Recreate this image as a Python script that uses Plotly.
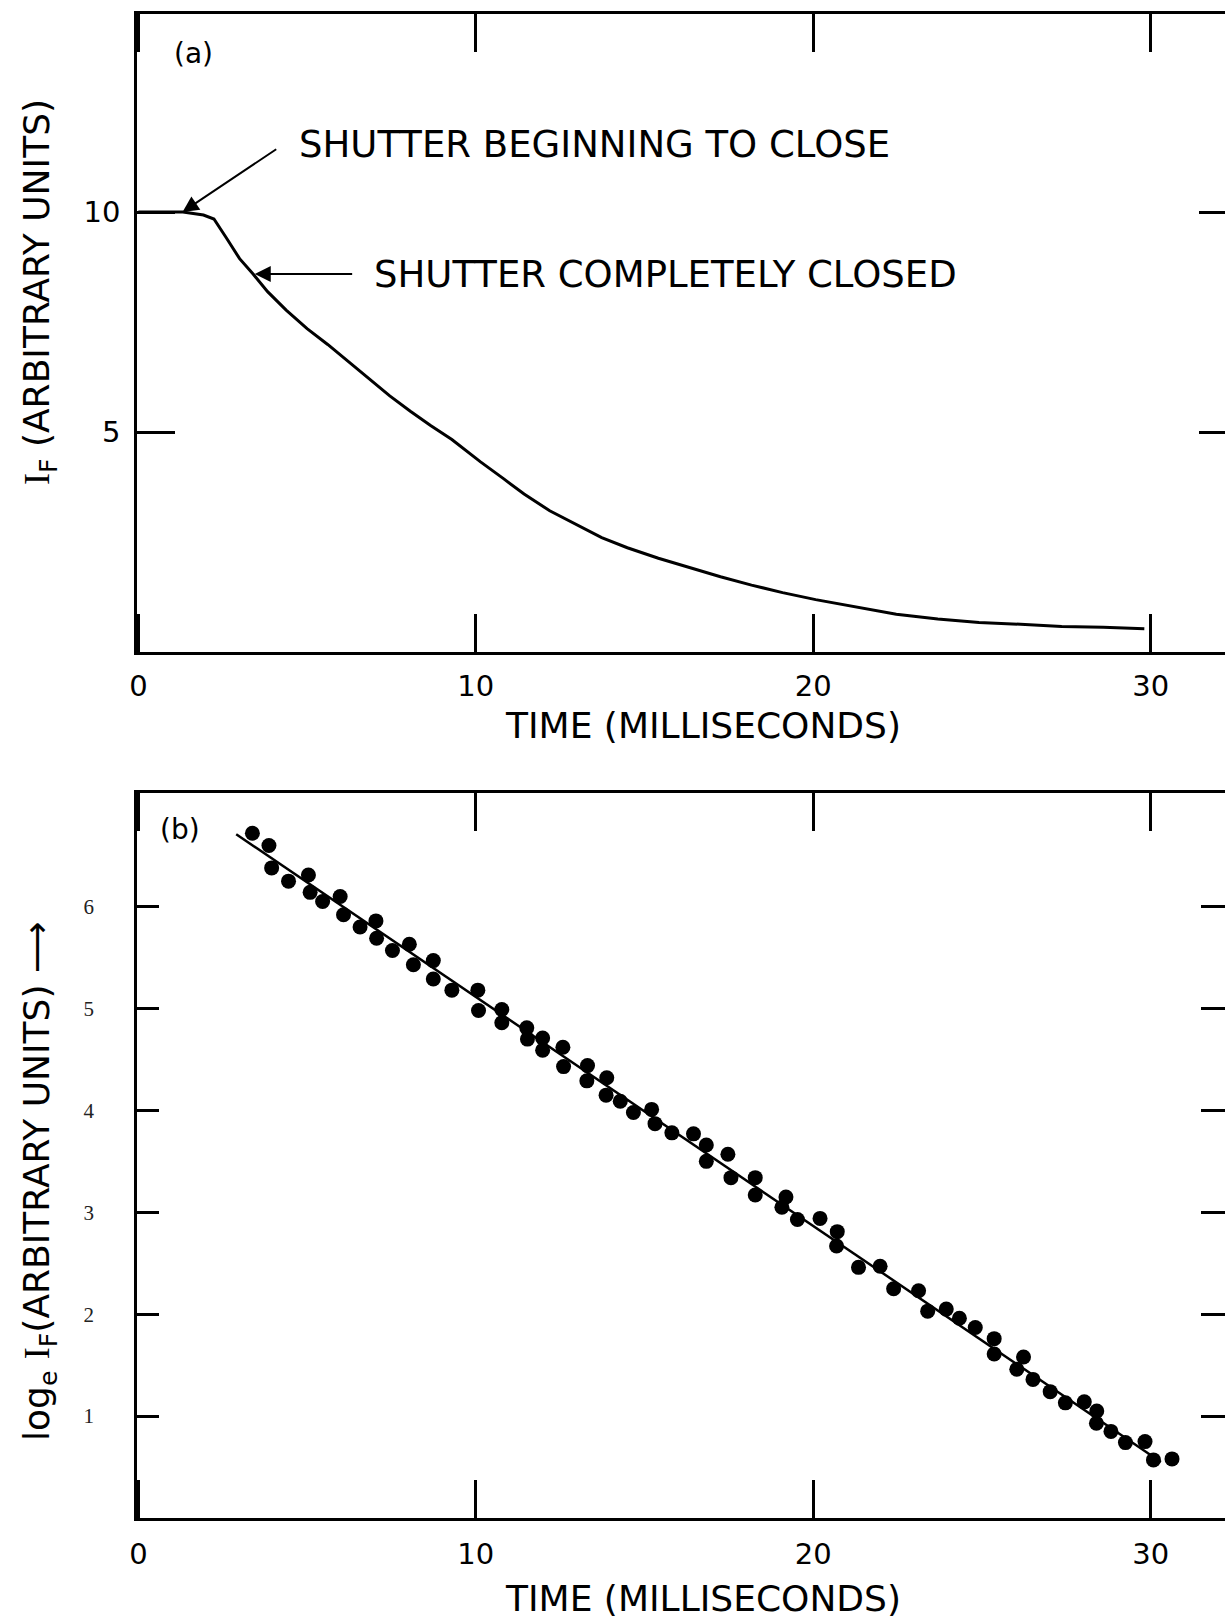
import plotly.graph_objects as go

# ---- Panel (a): fluorescence intensity trace after the shutter closes ----
trace_t = [0.0, 1.32, 1.93, 2.24, 2.61, 3.00, 3.40, 3.83, 4.38, 5.00, 5.61, 6.22,
           6.83, 7.45, 8.06, 8.67, 9.29, 10.14, 10.82, 11.43, 12.19, 12.96, 13.73,
           14.49, 15.41, 16.33, 17.25, 18.17, 19.09, 20.07, 21.23, 22.46, 23.69,
           24.91, 26.14, 27.36, 28.59, 29.81]
trace_i = [10.0, 10.0, 9.93, 9.84, 9.41, 8.94, 8.59, 8.19, 7.77, 7.35, 6.99, 6.60,
           6.20, 5.82, 5.47, 5.14, 4.83, 4.32, 3.94, 3.59, 3.21, 2.91, 2.60,
           2.37, 2.13, 1.92, 1.71, 1.52, 1.35, 1.19, 1.03, 0.86, 0.75,
           0.67, 0.63, 0.58, 0.56, 0.53]

# ---- Panel (b): log_e of the intensity, sampled points and straight-line fit ----
log_t = [3.38, 3.87, 3.95, 4.45, 5.04, 5.09, 5.46, 5.98, 6.08, 6.57, 7.04, 7.06,
         7.53, 8.03, 8.15, 8.74, 8.74, 9.29, 10.06, 10.08, 10.77, 10.77, 11.51,
         11.53, 11.98, 11.98, 12.58, 12.60, 13.31, 13.29, 13.88, 13.86, 14.28,
         14.67, 15.21, 15.31, 15.81, 16.45, 16.83, 16.83, 17.47, 17.56, 18.28,
         18.28, 19.19, 19.07, 19.53, 20.20, 20.71, 20.69, 21.34, 21.98, 22.38,
         23.12, 23.39, 23.94, 24.33, 24.80, 25.36, 25.36, 26.23, 26.03, 26.51,
         27.02, 27.47, 28.03, 28.40, 28.39, 28.82, 29.25, 29.83, 30.08, 30.63]
log_i = [6.72, 6.60, 6.38, 6.25, 6.31, 6.14, 6.05, 6.10, 5.92, 5.80, 5.86, 5.69,
         5.57, 5.63, 5.43, 5.47, 5.29, 5.18, 5.18, 4.98, 4.99, 4.86, 4.81,
         4.70, 4.71, 4.59, 4.62, 4.43, 4.44, 4.29, 4.32, 4.15, 4.09,
         3.98, 4.01, 3.87, 3.78, 3.77, 3.66, 3.50, 3.57, 3.34, 3.34,
         3.17, 3.15, 3.05, 2.93, 2.94, 2.81, 2.67, 2.46, 2.47, 2.25,
         2.23, 2.03, 2.05, 1.96, 1.87, 1.76, 1.61, 1.58, 1.46, 1.36,
         1.24, 1.13, 1.14, 1.05, 0.93, 0.85, 0.74, 0.75, 0.57, 0.58]
fit_t = [2.90, 30.30]
fit_i = [6.71, 0.55]

x_ticks = [0, 10, 20, 30]
x_tick_text = ["0", "10", "20", "30"]
a_ticks = [5, 10]
a_tick_text = ["5", "10"]
b_ticks = [1, 2, 3, 4, 5, 6]
b_tick_text = ["1", "2", "3", "4", "5", "6"]

FONT = "DejaVu Sans"
W, H = 1225, 1621
PL, PR, PT, PB = 137, 1225, 14, 1518
X_RANGE = [-0.04, 32.2]
A_RANGE = [0, 14.5]
B_RANGE = [0, 7.115]


def px_x(px):
    return (px - PL) / (PR - PL)


def px_y(py):
    return (PB - py) / (PB - PT)


fig = go.Figure()

fig.add_trace(go.Scatter(x=trace_t, y=trace_i, mode="lines",
                         line=dict(color="black", width=3),
                         xaxis="x", yaxis="y", showlegend=False))

fig.add_trace(go.Scatter(x=fit_t, y=fit_i, mode="lines",
                         line=dict(color="black", width=2.5),
                         xaxis="x2", yaxis="y2", showlegend=False))
fig.add_trace(go.Scatter(x=log_t, y=log_i, mode="markers",
                         marker=dict(color="black", size=15),
                         xaxis="x2", yaxis="y2", showlegend=False))

# empty traces so the right-hand tick-only axes are laid out
fig.add_trace(go.Scatter(x=[], y=[], xaxis="x", yaxis="y3", showlegend=False,
                         hoverinfo="skip"))
fig.add_trace(go.Scatter(x=[], y=[], xaxis="x2", yaxis="y4", showlegend=False,
                         hoverinfo="skip"))

xcommon = dict(range=X_RANGE, tickvals=x_ticks, ticktext=x_tick_text,
               ticks="inside", ticklen=38, tickwidth=2.5, tickcolor="black",
               showline=True, linecolor="black", linewidth=2.5, mirror="ticks",
               showgrid=False, zeroline=False,
               tickfont=dict(family=FONT, size=29, color="black"))

ycommon = dict(ticks="inside", tickwidth=2.5, tickcolor="black",
               showgrid=False, zeroline=False)

fig.update_layout(
    width=W, height=H,
    margin=dict(l=PL, r=W - PR, t=PT, b=H - PB),
    paper_bgcolor="white", plot_bgcolor="white",
    xaxis=dict(**xcommon, domain=[0, 1], anchor="y", ticklabelstandoff=6),
    yaxis=dict(**ycommon, domain=[px_y(652), 1.0], anchor="x", range=A_RANGE,
               tickvals=a_ticks, ticktext=a_tick_text, ticklen=38,
               showline=True, linecolor="black", linewidth=2.5,
               ticklabelstandoff=8,
               tickfont=dict(family=FONT, size=29, color="black")),
    yaxis3=dict(**ycommon, overlaying="y", side="right", anchor="x", range=A_RANGE,
                tickvals=a_ticks, ticklen=26, showline=False,
                showticklabels=False),
    xaxis2=dict(**xcommon, domain=[0, 1], anchor="y2", ticklabelstandoff=8),
    yaxis2=dict(**ycommon, domain=[0, px_y(793)], anchor="x2", range=B_RANGE,
                tickvals=b_ticks, ticktext=b_tick_text, ticklen=22,
                showline=True, linecolor="black", linewidth=2.5,
                ticklabelstandoff=36,
                tickfont=dict(family="Liberation Serif", size=21, color="#222")),
    yaxis4=dict(**ycommon, overlaying="y2", side="right", anchor="x2", range=B_RANGE,
                tickvals=b_ticks, ticklen=24, showline=False,
                showticklabels=False),
)

ann = []


def label(text, px, py, size=36, angle=0, xanchor="center"):
    ann.append(dict(text=text, x=px_x(px), y=px_y(py), xref="paper", yref="paper",
                    xanchor=xanchor, yanchor="middle", showarrow=False,
                    textangle=angle, font=dict(family=FONT, size=size, color="black")))


SERIF_I = '<span style="font-family:Liberation Serif">I</span>'

label("(a)", 193, 54, size=28)
label("(b)", 180, 829, size=28)
label("SHUTTER BEGINNING TO CLOSE", 297, 145, size=37, xanchor="left")
label("SHUTTER COMPLETELY CLOSED", 372, 274, size=37, xanchor="left")
label("TIME (MILLISECONDS)", 703, 725)
label("TIME (MILLISECONDS)", 703, 1599)
label(SERIF_I + "<sub>F</sub> (ARBITRARY UNITS)", 39, 292, angle=-90)
label("log<sub>e</sub> " + SERIF_I + "<sub>F</sub>(ARBITRARY UNITS) \u27f6",
      39, 1181, angle=-90)

# arrows pointing at the trace in panel (a)
ann.append(dict(text="", x=1.31, y=10.0, ax=4.13, ay=11.45, xref="x", yref="y",
                axref="x", ayref="y", showarrow=True, arrowhead=2, arrowsize=1.6,
                arrowwidth=2, arrowcolor="black"))
ann.append(dict(text="", x=3.45, y=8.59, ax=6.38, ay=8.59, xref="x", yref="y",
                axref="x", ayref="y", showarrow=True, arrowhead=2, arrowsize=1.6,
                arrowwidth=2, arrowcolor="black"))

fig.update_layout(annotations=ann)
fig.write_html("out.html")
